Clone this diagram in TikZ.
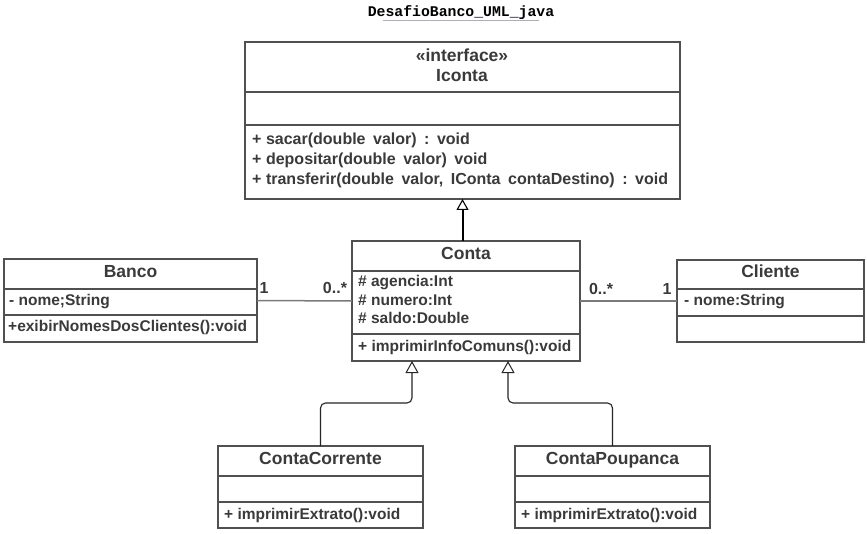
\documentclass[tikz,border=0pt]{standalone}
\usepackage{fontspec}
\setmainfont{Liberation Sans}
\newfontfamily\titlemono{Liberation Mono}
\usetikzlibrary{arrows.meta}
\definecolor{txt}{HTML}{3A3A3A}
\definecolor{brd}{HTML}{505050}
\definecolor{assc}{HTML}{7A7A7A}
\definecolor{uline}{HTML}{A8B0BE}
\newcommand\widespaces{\frenchspacing\spaceskip=7.5pt plus 0pt minus 0pt\relax}
\newcommand\msp{\hskip4.5pt\relax}
\tikzset{
  classbox/.style={draw=brd, line width=1.2pt, fill=white, anchor=north west, inner sep=0pt, outer sep=0pt},
  divider/.style={draw=brd, line width=1.2pt},
  cname/.style={font=\fontsize{17.5}{19}\selectfont\bfseries, text=txt, inner sep=0pt, anchor=base},
  member/.style={font=\fontsize{15.5}{17}\selectfont\bfseries, execute at begin node=\frenchspacing, text=txt, inner sep=0pt, anchor=base west},
  imember/.style={font=\fontsize{16}{18}\selectfont\bfseries, execute at begin node=\widespaces, text=txt, inner sep=0pt, anchor=base west},
  mult/.style={font=\fontsize{16}{18}\selectfont\bfseries, text=txt, inner sep=0pt, anchor=base},
  inh/.style={draw=black!85, line width=1.1pt, rounded corners=5pt, -{Triangle[open, length=12pt, width=13pt, line width=1pt]}},
  inhmain/.style={draw=black, line width=2pt, -{Triangle[open, length=11pt, width=12pt, line width=1.1pt]}},
  assoc/.style={draw=assc, line width=1.5pt}
}
\begin{document}
\begin{tikzpicture}[x=1pt, y=-1pt]
\useasboundingbox[fill=white] (0,0) rectangle (867,534);
% title
\node[font=\titlemono\fontsize{14.8}{16}\selectfont\bfseries, text=black, inner sep=0pt, anchor=base] (title) at (461,16.5) {DesafioBanco\_UML\_java};
\draw[uline, line width=1pt] (383,21) -- (539,21);

% Iconta
\node[classbox, minimum width=435pt, minimum height=157pt] (iconta) at (245,42) {};
\draw[divider] (245,92) -- (680,92);
\draw[divider] (245,125) -- (680,125);
\node[cname] (istereo) at (462,62) {«interface»};
\node[cname] (iname) at (462,82) {Iconta};
\node[imember] (im1) at (252,144.5) {+\msp sacar(double valor) : void};
\node[imember] (im2) at (252,164.5) {+\msp depositar(double valor) void};
\node[imember] (im3) at (252,184.5) {+\msp transferir(double valor, IConta contaDestino) : void};

% Conta
\node[classbox, minimum width=228pt, minimum height=120pt] (conta) at (352,241) {};
\draw[divider] (352,271) -- (580,271);
\draw[divider] (352,334) -- (580,334);
\node[cname] (cname) at (466,259.5) {Conta};
\node[member] (ca1) at (358,287) {\# agencia:Int};
\node[member] (ca2) at (358,305.5) {\# numero:Int};
\node[member] (ca3) at (358,324) {\# saldo:Double};
\node[member] (cm1) at (358,352) {+ imprimirInfoComuns():void};

% Banco
\node[classbox, minimum width=253pt, minimum height=83pt] (banco) at (4,259) {};
\draw[divider] (4,289) -- (257,289);
\draw[divider] (4,315) -- (257,315);
\node[cname] (bname) at (130.5,278) {Banco};
\node[member] (ba1) at (9,305.5) {- nome;String};
\node[member] (bm1) at (8,332) {+exibirNomesDosClientes():void};

% Cliente
\node[classbox, minimum width=187pt, minimum height=82pt] (cliente) at (677,260) {};
\draw[divider] (677,289) -- (864,289);
\draw[divider] (677,316) -- (864,316);
\node[cname] (clname) at (770.5,278) {Cliente};
\node[member] (cla1) at (684,305.5) {- nome:String};

% ContaCorrente
\node[classbox, minimum width=205pt, minimum height=82pt] (cc) at (218,446) {};
\draw[divider] (218,476) -- (423,476);
\draw[divider] (218,502) -- (423,502);
\node[cname] (ccname) at (320.5,464.5) {ContaCorrente};
\node[member] (ccm1) at (224,519.5) {+ imprimirExtrato():void};

% ContaPoupanca
\node[classbox, minimum width=195pt, minimum height=82pt] (cp) at (515,446) {};
\draw[divider] (515,476) -- (710,476);
\draw[divider] (515,502) -- (710,502);
\node[cname] (cpname) at (612.5,464.5) {ContaPoupanca};
\node[member] (cpm1) at (521,519.5) {+ imprimirExtrato():void};

% connectors
\coordinate (contaL) at (412,361);
\coordinate (contaR) at (508,361);
\draw[inhmain] (conta.north -| iconta.south) -- (iconta.south);
\draw[inh] (cc.north) -- (320.5,403) -- (412,403) -- (contaL);
\draw[inh] (cp.north) -- (612.5,403) -- (508,403) -- (contaR);
\draw[assoc] (banco.east) -- (conta.west);
\draw[assoc] (conta.east) -- (cliente.west |- conta.east);

% multiplicities
\node[mult] (m1) at (264,294) {1};
\node[mult] (m2) at (335,294) {0..*};
\node[mult] (m3) at (601,295) {0..*};
\node[mult] (m4) at (667,295) {1};
\end{tikzpicture}
\end{document}
